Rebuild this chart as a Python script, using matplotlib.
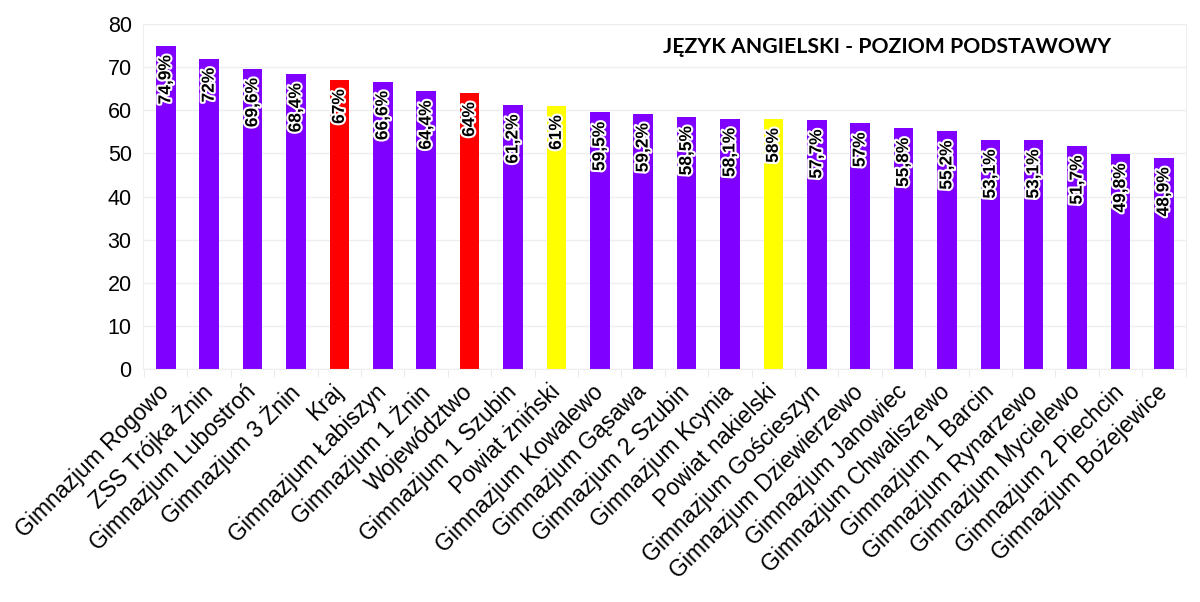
import matplotlib
matplotlib.use('Agg')
import matplotlib.pyplot as plt
import matplotlib.patheffects as pe
import numpy as np

# Data
schools = ['Gimnazjum Rogowo', 'ZSS Trójka Żnin', 'Gimnazjum Lubostroń', 'Gimnazjum 3 Żnin',
           'Kraj', 'Gimnazjum Łabiszyn', 'Gimnazjum 1 Żnin', 'Województwo',
           'Gimnazjum 1 Szubin', 'Powiat żniński', 'Gimnazjum Kowalewo', 'Gimnazjum Gąsawa',
           'Gimnazjum 2 Szubin', 'Gimnazjum Kcynia', 'Powiat nakielski', 'Gimnazjum Gościeszyn',
           'Gimnazjum Dziewierzewo', 'Gimnazjum Janowiec', 'Gimnazjum Chwaliszewo',
           'Gimnazjum 1 Barcin', 'Gimnazjum Rynarzewo', 'Gimnazjum Mycielewo',
           'Gimnazjum 2 Piechcin', 'Gimnazjum Bożejewice']
scores = [74.9, 72, 69.6, 68.4, 67, 66.6, 64.4, 64, 61.2, 61, 59.5, 59.2,
          58.5, 58.1, 58, 57.7, 57, 55.8, 55.2, 53.1, 53.1, 51.7, 49.8, 48.9]
score_labels = ['74,9%', '72%', '69,6%', '68,4%', '67%', '66,6%', '64,4%', '64%',
                '61,2%', '61%', '59,5%', '59,2%', '58,5%', '58,1%', '58%', '57,7%',
                '57%', '55,8%', '55,2%', '53,1%', '53,1%', '51,7%', '49,8%', '48,9%']
# which kind each bar is: school, country/voivodeship, district
kinds = ['s', 's', 's', 's', 'k', 's', 's', 'k', 's', 'p', 's', 's',
         's', 's', 'p', 's', 's', 's', 's', 's', 's', 's', 's', 's']

kind_colors = {'s': '#7F00FF', 'k': '#FF0000', 'p': '#FFFF00'}
colors = [kind_colors[k] for k in kinds]

plt.rcParams['font.family'] = ['Liberation Sans', 'DejaVu Sans']

fig = plt.figure(figsize=(12, 6.02), dpi=100)
ax = fig.add_axes([0.119, 0.387, 0.869, 0.573])

x = np.arange(len(schools))
ax.bar(x, scores, width=0.45, color=colors, zorder=2)

for xi, v, lab in zip(x, scores, score_labels):
    ax.annotate(lab, (xi, v), xytext=(0, -6.5), textcoords='offset points',
                rotation=90, ha='center', va='top', fontsize=12.5, fontweight='bold',
                color='black',
                path_effects=[pe.withStroke(linewidth=3, foreground='white')], zorder=3)

ax.set_ylim(0, 80)
ax.set_xlim(-0.53, len(schools) - 0.5)
ax.set_yticks(range(0, 81, 10))
ax.tick_params(axis='y', labelsize=15.5, length=0, pad=8)
ax.yaxis.grid(True, color='#eeeeee', linewidth=1, zorder=0)

ax.set_xticks(x)
ax.set_xticklabels(schools, rotation=45, ha='right', va='center', rotation_mode='anchor',
                   fontsize=16.5)
ax.tick_params(axis='x', length=0, pad=14)
ax.set_xticks(np.arange(-0.5, len(schools), 1), minor=True)
ax.tick_params(axis='x', which='minor', length=6, color='#e6e6e6')

for s in ax.spines.values():
    s.set_color('#eeeeee')

ax.text(0.714, 0.933, 'JĘZYK ANGIELSKI - POZIOM PODSTAWOWY', transform=ax.transAxes,
        ha='center', va='center', fontsize=15.3, fontweight='bold',
        family=['Lato', 'DejaVu Sans'])

fig.savefig('out.png', dpi=100)
